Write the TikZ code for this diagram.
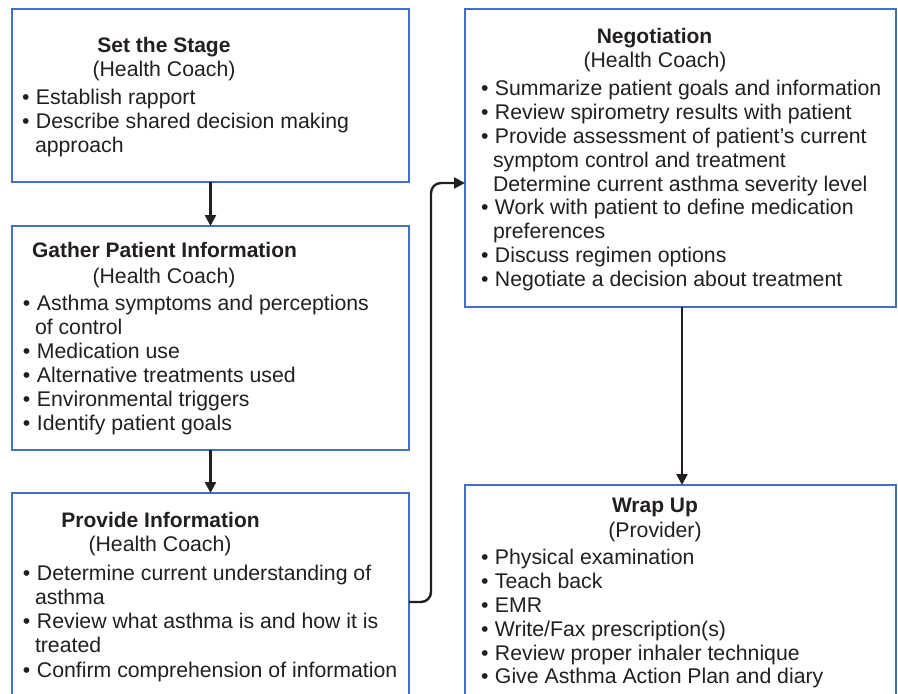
\documentclass[tikz,border=0pt]{standalone}
\usepackage{fontspec}
\setmainfont{Liberation Sans}
\usetikzlibrary{arrows.meta}
\definecolor{boxblue}{HTML}{4470C4}
\definecolor{ink}{HTML}{231F20}
\tikzset{
  stagebox/.style={draw=boxblue, line width=2.6pt, fill=white, inner sep=0pt, outer sep=0pt},
  txt/.style={anchor=base west, inner sep=0pt, outer sep=0pt, text=ink, font=\fontsize{21.25}{24}\selectfont},
  ttl/.style={anchor=base, inner sep=0pt, outer sep=0pt, text=ink, font=\fontsize{21}{24}\selectfont\bfseries},
  sub/.style={anchor=base, inner sep=0pt, outer sep=0pt, text=ink, font=\fontsize{21.25}{24}\selectfont},
  flow/.style={draw=ink, line width=2.4pt, -{Triangle[length=11pt,width=11pt]}},
}
\newcommand{\bul}{\makebox[14pt][l]{•}}
\begin{document}
\begin{tikzpicture}[x=1pt,y=-1pt]
\useasboundingbox (0,0) rectangle (898,694);
% boxes
\node[stagebox, minimum width=397pt, minimum height=173pt, anchor=north west] (stage) at (12,9) {};
\node[stagebox, minimum width=397pt, minimum height=224pt, anchor=north west] (gather) at (12,226) {};
\node[stagebox, minimum width=397pt, minimum height=218pt, anchor=north west] (prov) at (12,493) {};
\node[stagebox, minimum width=431pt, minimum height=298pt, anchor=north west] (neg) at (465,9) {};
\node[stagebox, minimum width=431pt, minimum height=260pt, anchor=north west] (wrap) at (465,485) {};

% Set the Stage
\node[ttl] (t1) at (164,52) {Set the Stage};
\node[sub] (s1) at (164,76) {(Health Coach)};
\node[txt] (a1) at (22,104) {\bul Establish rapport};
\node[txt] (a2) at (22,128) {\bul Describe shared decision making};
\node[txt] (a3) at (35,152) {approach};

% Gather Patient Information
\node[ttl] (t2) at (164.5,257) {Gather Patient Information};
\node[sub] (s2) at (164,283) {(Health Coach)};
\node[txt] (b1) at (23,310) {\bul Asthma symptoms and perceptions};
\node[txt] (b2) at (35,334) {of control};
\node[txt] (b3) at (23,358) {\bul Medication use};
\node[txt] (b4) at (23,382) {\bul Alternative treatments used};
\node[txt] (b5) at (23,406) {\bul Environmental triggers};
\node[txt] (b6) at (23,430) {\bul Identify patient goals};

% Provide Information
\node[ttl] (t3) at (160.5,527) {Provide Information};
\node[sub] (s3) at (160,551) {(Health Coach)};
\node[txt] (c1) at (23,580) {\bul Determine current understanding of};
\node[txt] (c2) at (35,604) {asthma};
\node[txt] (c3) at (23,628) {\bul Review what asthma is and how it is};
\node[txt] (c4) at (35,652) {treated};
\node[txt] (c5) at (23,677) {\bul Confirm comprehension of information};

% Negotiation
\node[ttl] (t4) at (654.5,43) {Negotiation};
\node[sub] (s4) at (655,67) {(Health Coach)};
\node[txt] (d1) at (481,95) {\bul Summarize patient goals and information};
\node[txt] (d2) at (481,119) {\bul Review spirometry results with patient};
\node[txt] (d3) at (481,143) {\bul Provide assessment of patient’s current};
\node[txt] (d4) at (493,167) {symptom control and treatment};
\node[txt] (d5) at (493,191) {Determine current asthma severity level};
\node[txt] (d6) at (481,214) {\bul Work with patient to define medication};
\node[txt] (d7) at (493,238) {preferences};
\node[txt] (d8) at (481,262) {\bul Discuss regimen options};
\node[txt] (d9) at (481,286) {\bul Negotiate a decision about treatment};

% Wrap Up
\node[ttl] (t5) at (655,512) {Wrap Up};
\node[sub] (s5) at (655,537) {(Provider)};
\node[txt] (e1) at (481,564) {\bul Physical examination};
\node[txt] (e2) at (481,588) {\bul Teach back};
\node[txt] (e3) at (481,612) {\bul EMR};
\node[txt] (e4) at (481,636) {\bul Write/Fax prescription(s)};
\node[txt] (e5) at (481,660) {\bul Review proper inhaler technique};
\node[txt] (e6) at (481,683) {\bul Give Asthma Action Plan and diary};

% connectors
\draw[flow] (stage.south) -- (gather.north);
\draw[flow] (gather.south) -- (prov.north);
\coordinate (negtop) at (682,307);
\coordinate (wraptop) at (682,485);
\draw[flow] (negtop) -- (wraptop);
\coordinate (bend) at (431,183);
\coordinate (negin) at (465,183);
\draw[flow, rounded corners=10pt] (prov.east) -| (bend) -- (negin);
\end{tikzpicture}
\end{document}
